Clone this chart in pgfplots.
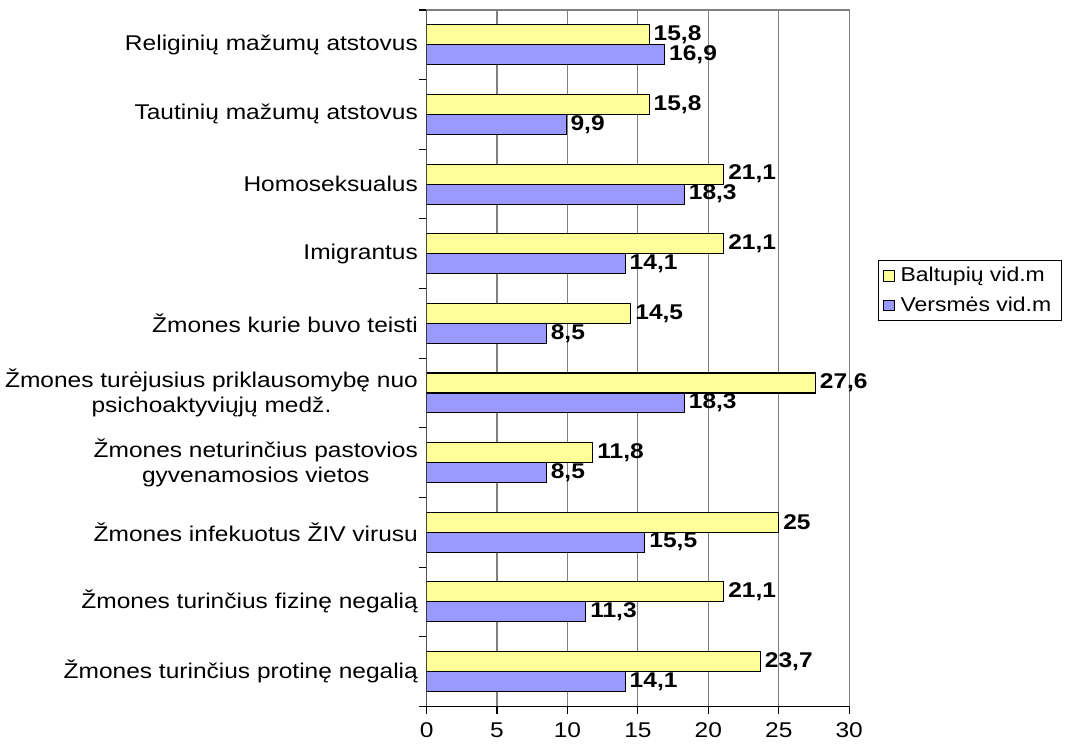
\documentclass[border=0pt]{standalone}
\usepackage{fontspec}
\setmainfont{Liberation Sans}[FakeStretch=1.15]
\usepackage{pgfplots}
\usepackage{pgfplotstable}
\pgfplotsset{compat=1.18}
\usetikzlibrary{calc}

\definecolor{baltu}{HTML}{FFFF99}
\definecolor{versm}{HTML}{9999FF}
\definecolor{gridgray}{HTML}{808080}

% idx 0 = bottom category
\pgfplotstableread{
idx balt vers
0 23.7 14.1
1 21.1 11.3
2 25.0 15.5
3 11.8 8.5
4 27.6 18.3
5 14.5 8.5
6 21.1 14.1
7 21.1 18.3
8 15.8 9.9
9 15.8 16.9
}\data

\begin{document}
\begin{tikzpicture}
\begin{axis}[
    name=ax,
    scale only axis,
    width=317.25pt, height=522.75pt,
    xbar, bar width=15pt,
    xmin=0, xmax=30,
    ymin=-0.5, ymax=9.5,
    xtick={0,5,...,30},
    ytick={-0.5,0.5,...,9.5},
    yticklabels={},
    extra y ticks={0,...,9},
    extra y tick labels={
        {Žmones turinčius protinę negalią},
        {Žmones turinčius fizinę negalią},
        {Žmones infekuotus ŽIV virusu},
        {Žmones neturinčius pastovios\\gyvenamosios vietos},
        {Žmones turėjusius priklausomybę nuo\\psichoaktyviųjų medž.},
        {Žmones kurie buvo teisti},
        {Imigrantus},
        {Homoseksualus},
        {Tautinių mažumų atstovus},
        {Religinių mažumų atstovus}},
    extra y tick style={major tick length=0pt,
        yticklabel style={align=center, font=\fontsize{16}{19}\selectfont, xshift=-3pt}},
    xticklabel style={font=\fontsize{16}{19}\selectfont, yshift=-3pt},
    /pgf/number format/assume math mode=true,
    /pgf/number format/use comma,
    tick pos=left,
    tick align=outside,
    major tick length=5.5pt,
    tick style={black, line width=0.8pt},
    xtick style={black, line width=0.8pt},
    xmajorgrids,
    major grid style={gridgray, line width=0.8pt},
    axis line style={gridgray, line width=0.8pt},
    axis on top=false,
    nodes near coords,
    every node near coord/.append style={font=\fontsize{16}{19}\selectfont\bfseries, anchor=west, inner sep=3pt, black},
    legend style={at={(1.069,0.597)}, anchor=west, draw=black, line width=0.8pt,
        font=\fontsize{15}{18}\selectfont, row sep=6pt, inner sep=3pt,
        nodes={inner xsep=4.5pt}},
    legend cell align=left,
    legend image code/.code={\draw[#1, line width=0.8pt] (0pt,-4pt) rectangle (8pt,4pt);},
]
\addplot[fill=baltu, draw=black, line width=0.8pt, bar shift=7.5pt] table[x=balt, y=idx] {\data};
\addlegendentry{Baltupių vid.m}
\addplot[fill=versm, draw=black, line width=0.8pt, bar shift=-7.5pt] table[x=vers, y=idx] {\data};
\addlegendentry{Versmės vid.m}
\draw[black, line width=0.8pt] (rel axis cs:0,0) -- (rel axis cs:0,1);
\draw[black, line width=0.8pt] (rel axis cs:0,0) -- (rel axis cs:1,0);
\end{axis}
% tick marks below the value axis, as in the reference
\foreach \t in {0,...,6} {
  \draw[black, line width=0.8pt] ($(ax.south west)!\t/6!(ax.south east)$) -- ++(0,-5.5pt);
}
\pgfresetboundingbox
\path ($(ax.south west)+(-320.25pt,-29.25pt)$) rectangle ($(ax.north east)+(162.75pt,7.5pt)$);
\end{tikzpicture}
\end{document}
